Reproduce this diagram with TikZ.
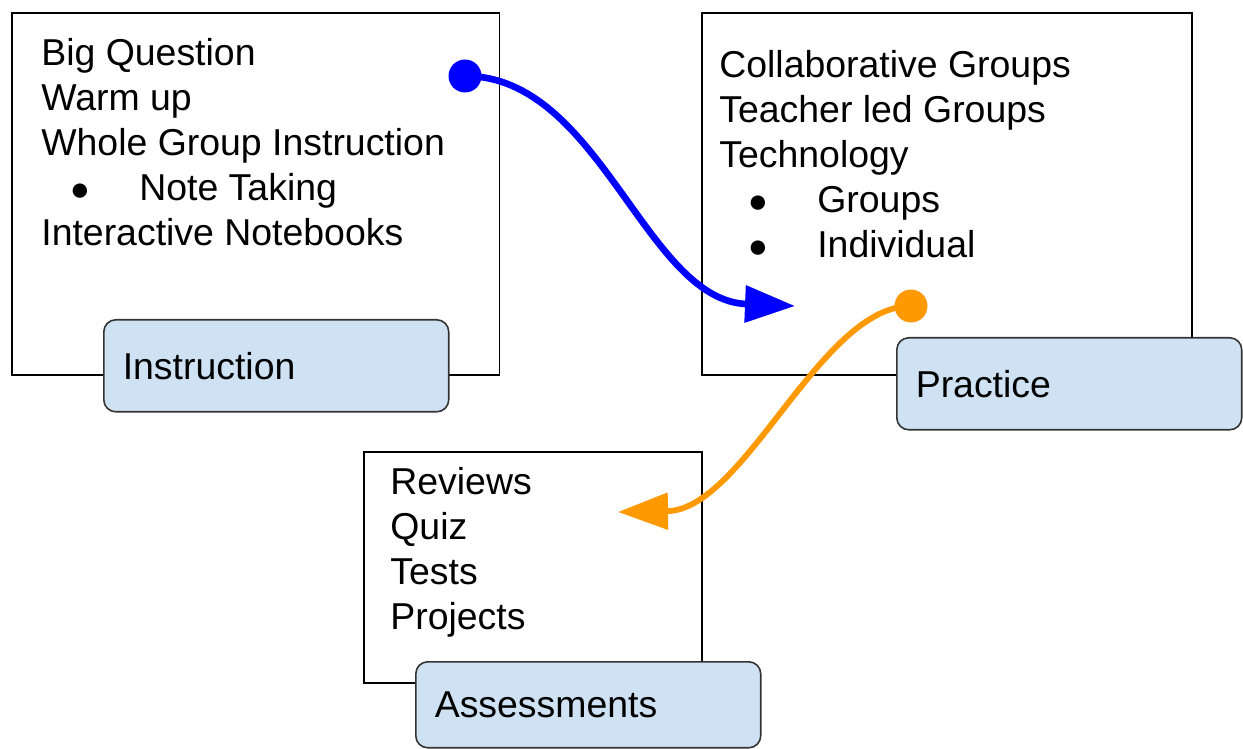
\documentclass[tikz,border=0pt]{standalone}
\usepackage{fontspec}
\setmainfont{Liberation Sans}
\usetikzlibrary{arrows.meta}

\definecolor{tagblue}{HTML}{CFE2F3}
\definecolor{linkorange}{HTML}{FF9900}
\newcommand{\dotitem}[1]{\makebox[1.54cm][c]{\fontsize{19}{19}\selectfont ●}\hspace*{0.42cm}#1}

\begin{document}
\begin{tikzpicture}[x=0.02cm, y=-0.02cm,
    panel/.style={draw, rectangle, line width=0.9pt, inner sep=0, anchor=north west},
    tagbox/.style={draw=black!80, fill=tagblue, rounded corners=0.24cm, line width=0.9pt,
        minimum width=6.9cm, text width=6.14cm, inner xsep=0.38cm, align=left,
        anchor=north west, font=\fontsize{21.3}{25}\selectfont},
    listtext/.style={anchor=north west, inner sep=0, align=left, font=\fontsize{21.3}{25.6}\selectfont},
    dotmark/.style={circle, inner sep=0, minimum size=0.66cm},
    linkarrow/.style={line width=3.8pt, -{Triangle[length=1cm, width=0.72cm]}}
]
\path[use as bounding box, fill=white] (0,0) rectangle (1243,749);

% Panels
\node[panel, minimum width=9.76cm, minimum height=7.24cm] (instrbox) at (11,12) {};
\node[panel, minimum width=9.8cm, minimum height=7.24cm] (pracbox) at (701,12) {};
\node[panel, minimum width=6.76cm, minimum height=4.62cm] (assessbox) at (363,451) {};

% Lists
\node[listtext] (instrlist) at (41,38) {Big Question\\Warm up\\Whole Group Instruction\\\dotitem{Note Taking}\\Interactive Notebooks};
\node[listtext] (praclist) at (719,50) {Collaborative Groups\\Teacher led Groups\\Technology\\\dotitem{Groups}\\\dotitem{Individual}};
\node[listtext] (assesslist) at (390,467) {Reviews\\Quiz\\Tests\\Projects};

% Tags
\node[tagbox, minimum height=1.84cm] (instrtag) at (103,319) {Instruction};
\node[tagbox, minimum height=1.84cm] (practag) at (896,337) {Practice};
\node[tagbox, minimum height=1.72cm] (assesstag) at (415,661) {Assessments};

% Links
\node[dotmark, fill=blue] (bdot) at (465,76) {};
\node[dotmark, fill=linkorange] (odot) at (911,306) {};
\coordinate (btip) at (795,306);
\coordinate (otip) at (618,512);
\draw[linkarrow, blue] (bdot.center) .. controls (600,76) and (645,300) .. (btip);
\draw[linkarrow, linkorange, line width=3.3pt] (odot.center) .. controls (820,306) and (745,510) .. (otip);

\end{tikzpicture}
\end{document}
